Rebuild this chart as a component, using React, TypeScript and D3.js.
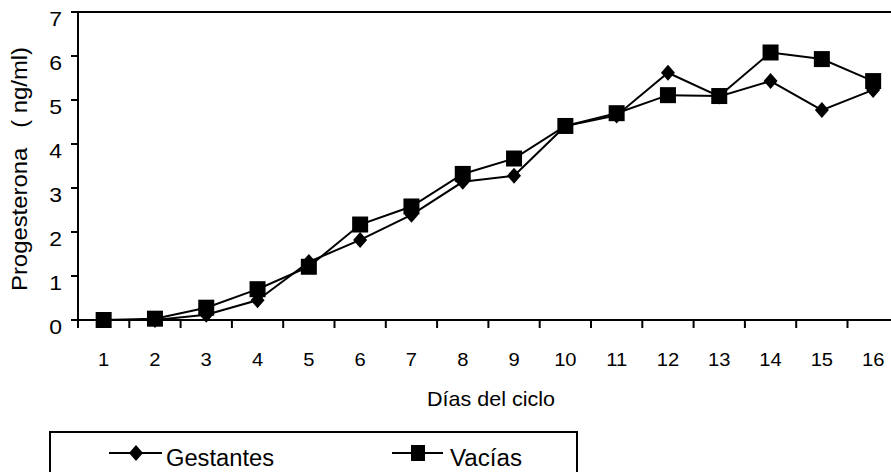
import React from "react";
import * as d3 from "d3";

const days = ["1","2","3","4","5","6","7","8","9","10","11","12","13","14","15","16"];
const gestantes = [0, 0, 0.12, 0.45, 1.32, 1.82, 2.39, 3.14, 3.28, 4.41, 4.65, 5.62, 5.08, 5.43, 4.77, 5.23];
const vacias = [0, 0.03, 0.28, 0.7, 1.21, 2.17, 2.58, 3.32, 3.67, 4.41, 4.7, 5.11, 5.09, 6.08, 5.93, 5.43];
const yTicks = [0, 1, 2, 3, 4, 5, 6, 7];

const W = 891, H = 472;
const left = 78, top = 12, bottom = 320, bandW = 51.3;
const font = "'Liberation Sans', Arial, sans-serif";

export default function App() {
  React.useEffect(() => { document.body.style.margin = "0"; }, []);
  const x = d3.scaleBand<string>().domain(days).range([left, left + bandW * days.length]).padding(0);
  const y = d3.scaleLinear().domain([0, 7]).range([bottom, top]);
  const cx = (i: number) => (x(days[i]) as number) + x.bandwidth() / 2;
  const line = d3.line<number>().x((_, i) => cx(i)).y((d) => y(d));
  const right = left + bandW * days.length;
  const boundaries = d3.range(days.length + 1).map((i) => left + i * x.step());
  const diamond = (px: number, py: number) => `M${px},${py - 8}L${px + 7},${py}L${px},${py + 8}L${px - 7},${py}Z`;

  return (
    <svg width={W} height={H} style={{ position: "absolute", left: 0, top: 0, background: "#fff" }} fontFamily={font}>
      <rect x={0} y={0} width={W} height={H} fill="#fff" />
      <line x1={left} x2={right} y1={y(7)} y2={y(7)} stroke="#000" strokeWidth={2} />
      <line x1={left} x2={left} y1={y(7) - 1} y2={bottom} stroke="#000" strokeWidth={2} />
      <line x1={left} x2={right} y1={bottom} y2={bottom} stroke="#000" strokeWidth={2} />
      {yTicks.map((t) => (
        <g key={t}>
          <line x1={left - 7} x2={left} y1={y(t)} y2={y(t)} stroke="#000" strokeWidth={2} />
          <text x={62} y={y(t) + 14} textAnchor="end" fontSize={20} transform={`translate(62,0) scale(1.15,1) translate(-62,0)`}>{t}</text>
        </g>
      ))}
      {boundaries.map((b, i) => (
        <line key={i} x1={b} x2={b} y1={bottom} y2={bottom + 8} stroke="#000" strokeWidth={2} />
      ))}
      {days.map((d, i) => (
        <text key={d} x={cx(i)} y={366} textAnchor="middle" fontSize={18} transform={`translate(${cx(i)},0) scale(1.12,1) translate(${-cx(i)},0)`}>{d}</text>
      ))}
      <text x={491} y={406} textAnchor="middle" fontSize={21} textLength={128} lengthAdjust="spacingAndGlyphs">Días del ciclo</text>
      <text transform={`translate(27,169) rotate(-90)`} textAnchor="middle" fontSize={22} textLength={244} lengthAdjust="spacingAndGlyphs" style={{ whiteSpace: "pre" }}>{"Progesterona   ( ng/ml)"}</text>

      <path d={line(gestantes) || ""} fill="none" stroke="#000" strokeWidth={2} />
      {gestantes.map((v, i) => (
        <path key={i} d={diamond(cx(i), y(v))} fill="#000" />
      ))}
      <path d={line(vacias) || ""} fill="none" stroke="#000" strokeWidth={2} />
      {vacias.map((v, i) => (
        <rect key={i} x={cx(i) - 8} y={y(v) - 8} width={16} height={16} fill="#000" />
      ))}

      <rect x={50} y={432} width={527} height={60} fill="none" stroke="#000" strokeWidth={2} />
      <line x1={109} x2={162} y1={453} y2={453} stroke="#000" strokeWidth={2} />
      <path d={diamond(136, 453)} fill="#000" />
      <text x={166} y={466} fontSize={23} textLength={108} lengthAdjust="spacingAndGlyphs">Gestantes</text>
      <line x1={392} x2={443} y1={453} y2={453} stroke="#000" strokeWidth={2} />
      <rect x={411} y={445} width={14} height={16} fill="#000" />
      <text x={450} y={466} fontSize={23} textLength={72} lengthAdjust="spacingAndGlyphs">Vacías</text>
    </svg>
  );
}
